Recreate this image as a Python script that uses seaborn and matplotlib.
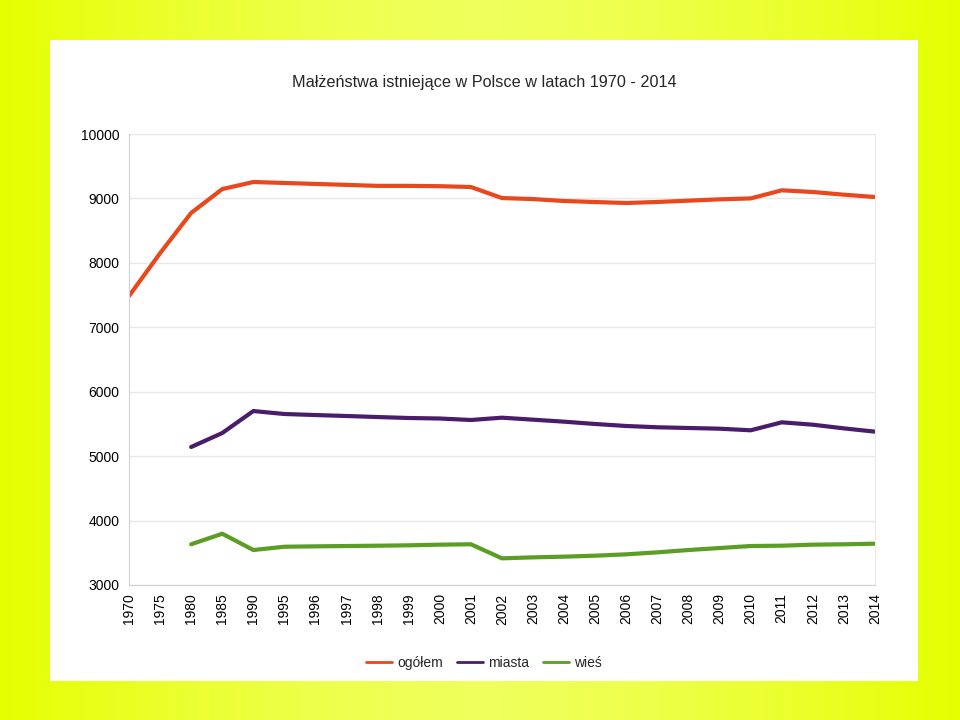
import numpy as np
import pandas as pd
import matplotlib
matplotlib.use("Agg")
import matplotlib.pyplot as plt
import seaborn as sns
from matplotlib.patches import Rectangle

years = ['1970', '1975', '1980', '1985', '1990', '1995', '1996', '1997', '1998', '1999',
         '2000', '2001', '2002', '2003', '2004', '2005', '2006', '2007', '2008', '2009',
         '2010', '2011', '2012', '2013', '2014']
ogolem = [7485, 8150, 8775, 9145, 9255, 9240, 9225, 9210, 9195, 9195,
          9190, 9177, 9006, 8990, 8960, 8944, 8929, 8945, 8965, 8986,
          9000, 9126, 9100, 9058, 9022]
miasta = [np.nan, np.nan, 5142, 5359, 5700, 5654, 5638, 5623, 5607, 5592,
          5584, 5561, 5597, 5566, 5535, 5499, 5468, 5448, 5437, 5426,
          5401, 5525, 5488, 5431, 5380]
wies = [np.nan, np.nan, 3632, 3796, 3543, 3594, 3600, 3605, 3610, 3616,
        3626, 3632, 3414, 3429, 3440, 3455, 3476, 3507, 3543, 3574,
        3605, 3610, 3626, 3632, 3641]
series = ['ogółem', 'miasta', 'wieś']
colors = ['#e8481c', '#4a1d6b', '#5a9e24']

pos = np.arange(len(years))
df = pd.concat([
    pd.DataFrame({'poz': pos, 'wartosc': vals, 'seria': name})
    for name, vals in zip(series, [ogolem, miasta, wies])
]).dropna()

sns.set_style('white')
plt.rcParams['font.family'] = ['Liberation Sans', 'DejaVu Sans']

fig = plt.figure(figsize=(9.6, 7.2), dpi=100)

# yellow background with a soft horizontal gradient
bg = fig.add_axes([0, 0, 1, 1])
t = np.linspace(-1, 1, 200)
w = 1 - np.abs(t) ** 1.5
c1 = np.array([0.90, 1.0, 0.0])
c2 = np.array([0.94, 1.0, 0.36])
img = c1[None, :] + (c2 - c1)[None, :] * w[:, None]
bg.imshow(img[None, :, :], aspect='auto', extent=[0, 1, 0, 1])
bg.add_patch(Rectangle((50 / 960, 1 - 681 / 720), 868 / 960, 641 / 720,
                       facecolor='white', edgecolor='none'))
bg.set_xlim(0, 1)
bg.set_ylim(0, 1)
bg.axis('off')

ax = fig.add_axes([129 / 960, 135 / 720, 746 / 960, 451 / 720])
sns.lineplot(data=df, x='poz', y='wartosc', hue='seria', palette=colors,
             hue_order=series, linewidth=3, ax=ax, legend=False)

ax.set_xlim(0, len(years) - 1)
ax.set_ylim(3000, 10000)
ax.set_yticks(range(3000, 10001, 1000))
ax.set_xticks(pos)
ax.set_xticklabels(years, rotation=90, fontsize=10)
ax.tick_params(axis='y', labelsize=10, length=4, color='#d0d0d0', pad=3, labelcolor='black')
ax.tick_params(axis='x', length=4, color='#d0d0d0', pad=2, labelcolor='black')
ax.yaxis.grid(True, color='#e8e8e8', linewidth=1)
ax.set_axisbelow(True)
for s in ['left', 'bottom']:
    ax.spines[s].set_color('#d0d0d0')
ax.spines['right'].set_color('#e8e8e8')
ax.spines['top'].set_visible(False)
ax.set_xlabel('')
ax.set_ylabel('')

fig.text(484 / 960, 1 - 83 / 720, 'Małżeństwa istniejące w Polsce w latach 1970 - 2014',
         ha='center', va='center', fontsize=11.7)

handles = [plt.Line2D([], [], color=c, linewidth=2) for c in colors]
fig.legend(handles, series, loc='center', bbox_to_anchor=(484 / 960, 1 - 663 / 720),
           ncol=3, frameon=False, fontsize=10, handlelength=1.9, columnspacing=1.0,
           handletextpad=0.35)

fig.savefig('out.png', dpi=100)
